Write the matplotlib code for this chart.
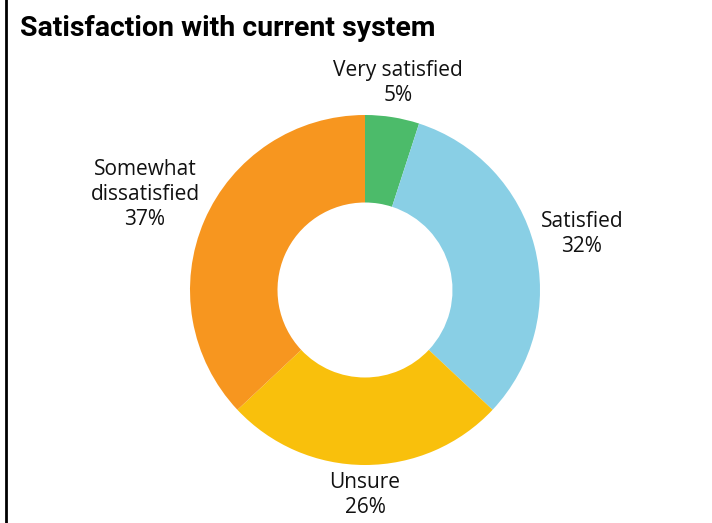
import matplotlib
matplotlib.use("Agg")
import matplotlib.pyplot as plt
from matplotlib.lines import Line2D
import numpy as np

# satisfaction survey shares, clockwise from 12 o'clock
categories = ["Very satisfied", "Satisfied", "Unsure", "Somewhat\ndissatisfied"]
shares = [5, 32, 26, 37]
colors = ["#4cbb6a", "#89cfe5", "#f9c00c", "#f7961f"]
label_dist = [1.20, 1.28, 1.17, 1.37]

plt.rcParams["font.family"] = ["Open Sans", "DejaVu Sans"]

fig = plt.figure(figsize=(7.12, 5.23), dpi=100)
ax = fig.add_axes([190 / 712, 1 - 465 / 523, 350 / 712, 350 / 523])

wedges, _ = ax.pie(shares, colors=colors, startangle=90, counterclock=False,
                   radius=1, wedgeprops=dict(width=0.5, linewidth=0))
ax.set_xlim(-1, 1)
ax.set_ylim(-1, 1)
ax.set_aspect("equal")
ax.axis("off")

for w, name, val, d in zip(wedges, categories, shares, label_dist):
    ang = np.deg2rad((w.theta1 + w.theta2) / 2)
    ax.text(d * np.cos(ang), d * np.sin(ang), f"{name}\n{val}%",
            ha="center", va="center", multialignment="center",
            fontsize=15, linespacing=1.25, color="#111111", clip_on=False)

fig.text(20 / 712, 1 - 36 / 523, "Satisfaction with current system",
         fontsize=20.5, fontweight="bold", color="black", va="baseline",
         family=["Roboto", "DejaVu Sans"])

# frame line on the left edge
fig.add_artist(Line2D([6 / 712, 6 / 712], [0, 1], color="black", lw=2))

fig.savefig("out.png", dpi=100)
